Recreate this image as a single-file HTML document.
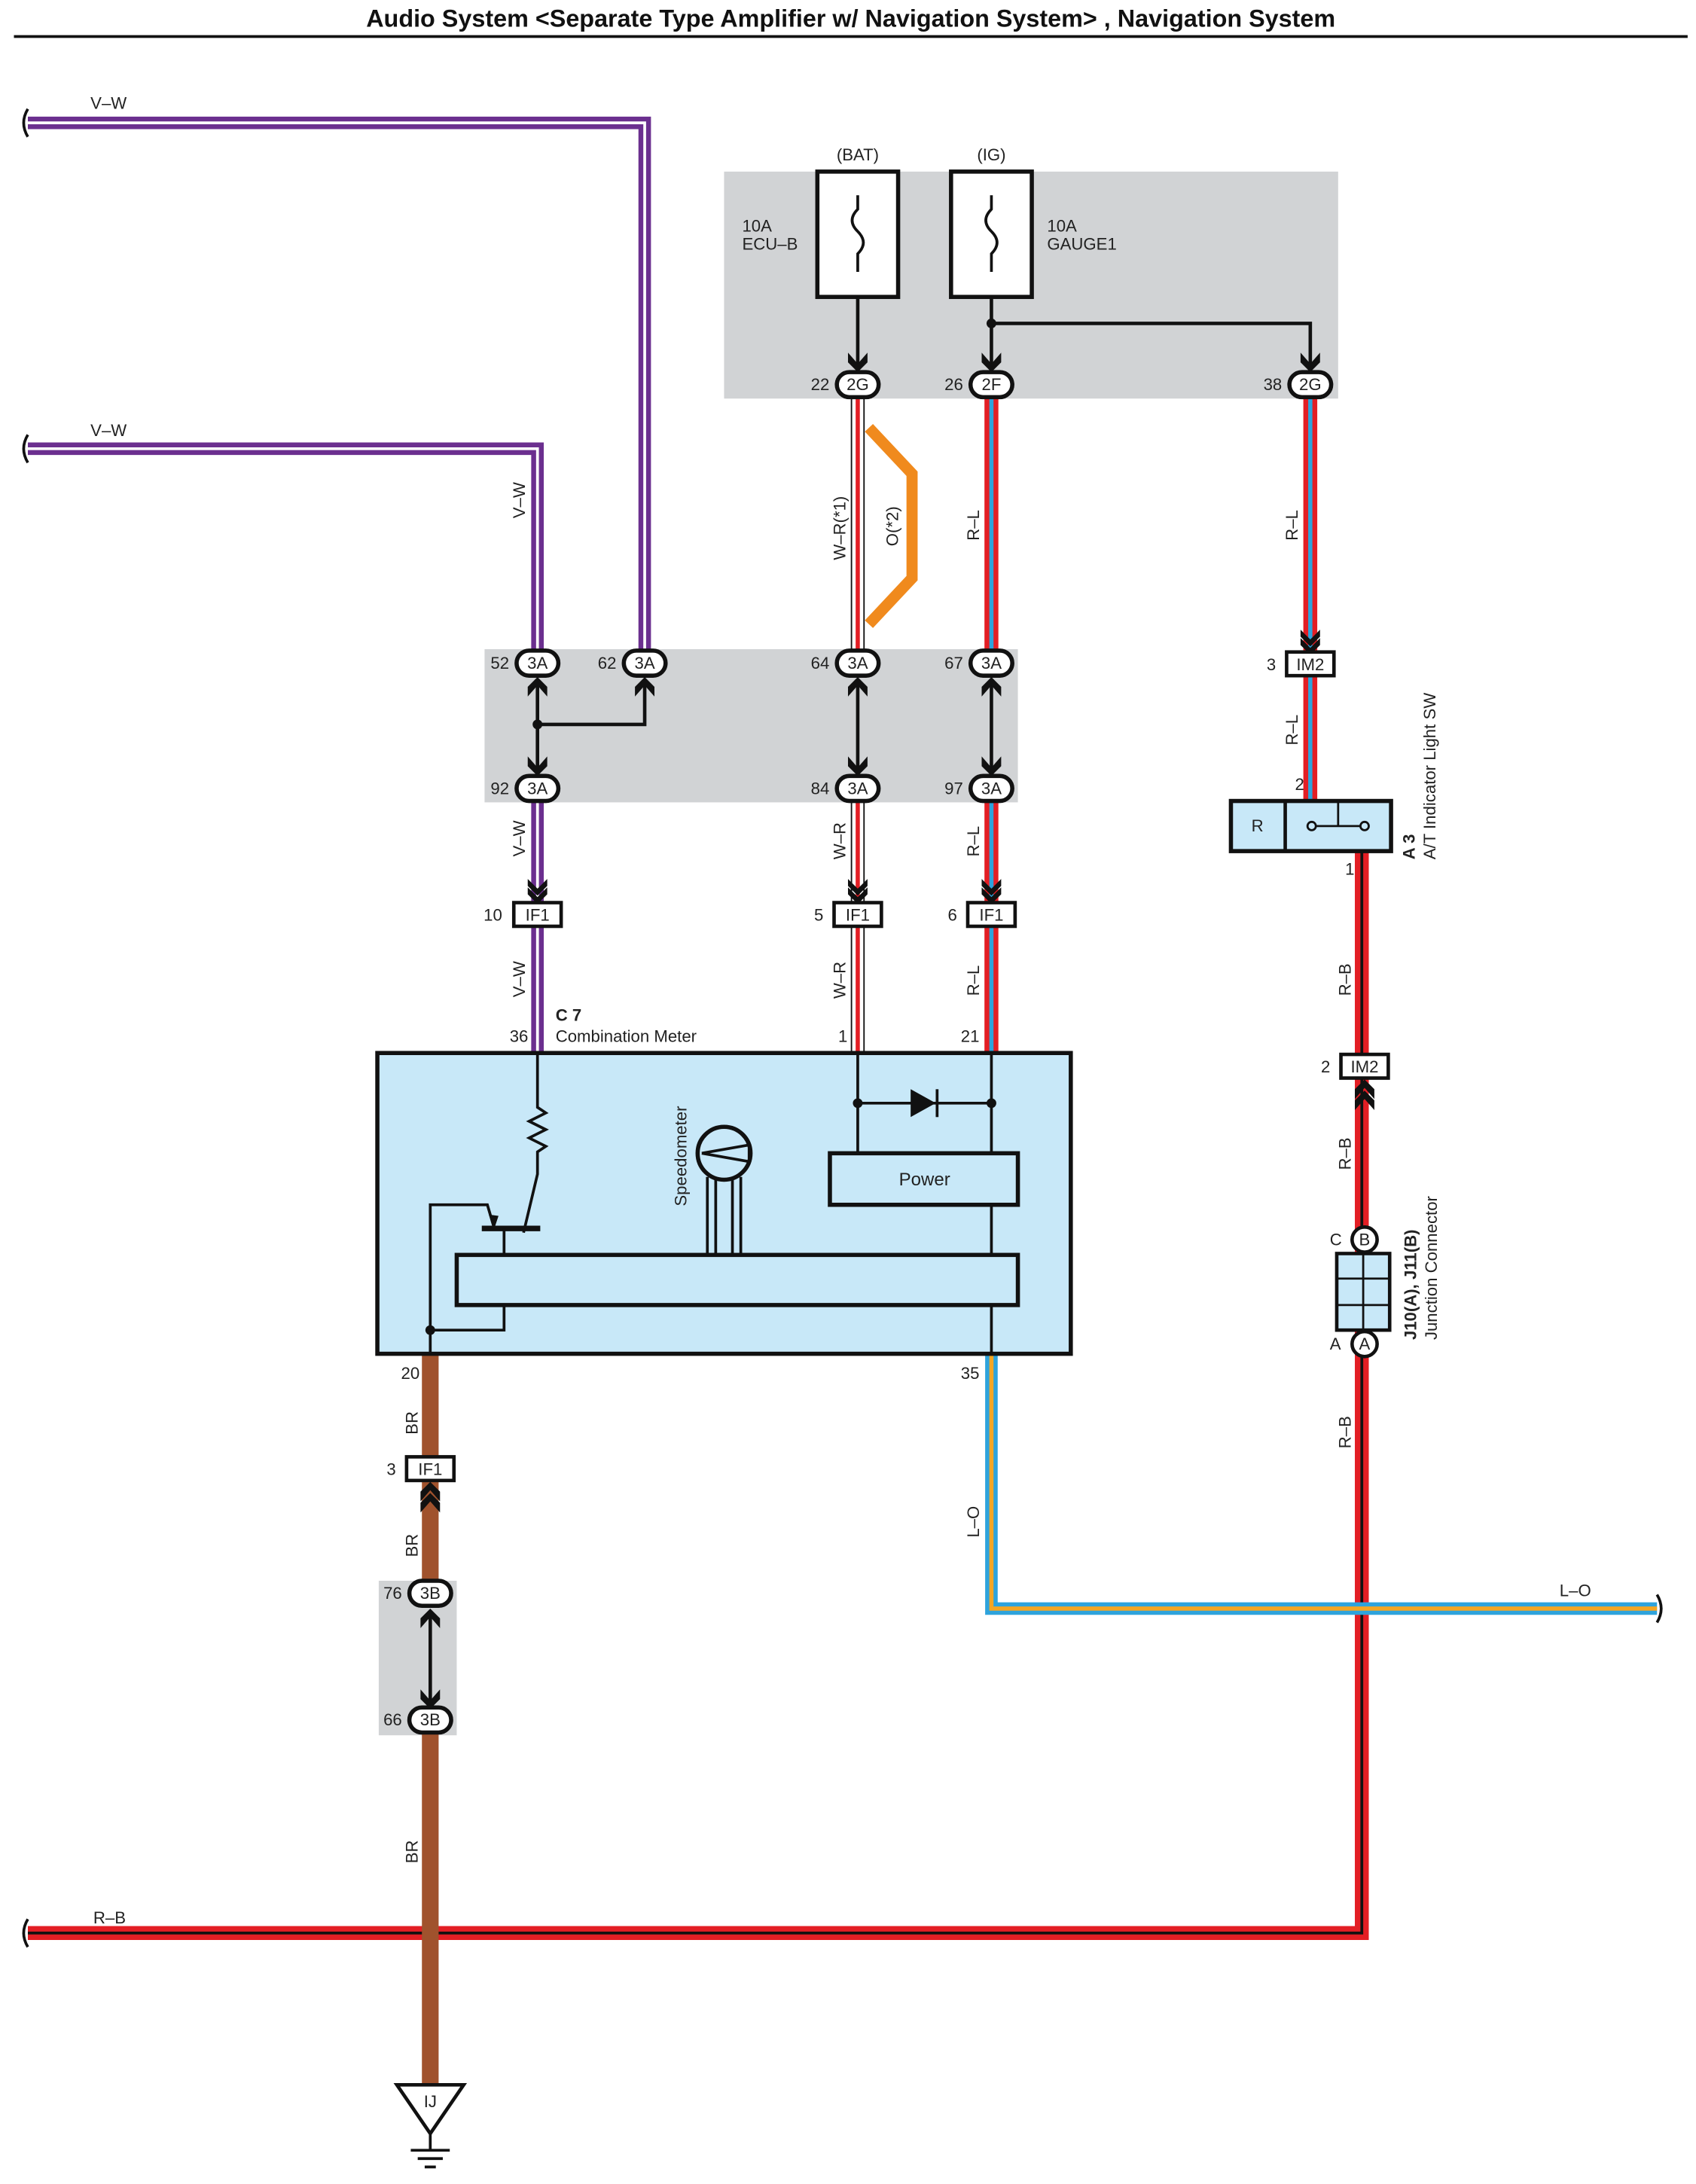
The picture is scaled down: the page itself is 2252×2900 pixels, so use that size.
<!DOCTYPE html>
<html><head><meta charset="utf-8"><style>
html,body{margin:0;padding:0;background:#fff;}
svg{display:block;}
text{font-family:"Liberation Sans",sans-serif;font-size:12px;fill:#222;}
</style></head><body>
<svg width="2252" height="2900" viewBox="0 0 1218 1568" xmlns="http://www.w3.org/2000/svg">
<defs>
<g id="conn"><rect x="-15" y="-9" width="30" height="18" rx="9" fill="#fff" stroke="#111" stroke-width="3"/></g>
<g id="rect"><rect x="-17" y="-8" width="34" height="17" fill="#fff" stroke="#111" stroke-width="2.5"/></g>
<g id="arrD"><path d="M-7,-14 L0,-7 L7,-14 L7,-9 L0,-2 L-7,-9Z" fill="#111"/><path d="M-7,-8 L0,-1 L7,-8 L7,-3 L0,4 L-7,-3Z" fill="#111"/></g>
<g id="arrowDn"><path d="M-7,-12 L0,-4 L7,-12 L7,-5 L0,2 L-7,-5Z" fill="#111"/></g>
<g id="arrowUp"><path d="M-7,12 L0,4 L7,12 L7,5 L0,-2 L-7,5Z" fill="#111"/></g>
</defs>
<text x="611" y="19" text-anchor="middle" style="font-size:17.5px;font-weight:bold;fill:#111">Audio System &lt;Separate Type Amplifier w/ Navigation System&gt; , Navigation System</text>
<line x1="10" y1="26" x2="1212" y2="26" stroke="#111" stroke-width="2"/>

<rect x="520" y="123" width="441" height="163" fill="#d1d3d5"/>
<rect x="348" y="466" width="383" height="110" fill="#d1d3d5"/>
<rect x="272" y="1135" width="56" height="111" fill="#d1d3d5"/>

<g fill="none">
<path d="M20,88 H463 V468" stroke="#6b2f8f" stroke-width="9"/>
<path d="M20,88 H463 V468" stroke="#fff" stroke-width="2"/>
<path d="M20,322 H386 V468" stroke="#6b2f8f" stroke-width="9"/>
<path d="M20,322 H386 V468" stroke="#fff" stroke-width="2"/>
<path d="M386,575 V756" stroke="#6b2f8f" stroke-width="9"/>
<path d="M386,575 V648 M386,665 V756" stroke="#fff" stroke-width="2"/>
</g>
<path d="M20,78 q-6,10 0,20" fill="none" stroke="#111" stroke-width="2"/>
<path d="M20,312 q-6,10 0,20" fill="none" stroke="#111" stroke-width="2"/>
<text x="65" y="78">V–W</text><text x="65" y="313">V–W</text>
<text transform="translate(377,372) rotate(-90)">V–W</text>
<text transform="translate(377,615) rotate(-90)">V–W</text>
<text transform="translate(377,716) rotate(-90)">V–W</text>

<g fill="none">
<path d="M616,285 V468 M616,575 V756" stroke="#111" stroke-width="10"/>
<path d="M616,285 V468 M616,575 V756" stroke="#fff" stroke-width="8"/>
<path d="M616,285 V468 M616,575 V756" stroke="#e31e24" stroke-width="3"/>
</g>
<text transform="translate(607,402) rotate(-90)">W–R(*1)</text>
<text transform="translate(607,617) rotate(-90)">W–R</text>
<text transform="translate(607,717) rotate(-90)">W–R</text>
<path d="M624,307 L655,340 V415 L624,448" fill="none" stroke="#f08a1d" stroke-width="8"/>
<text transform="translate(645,392) rotate(-90)">O(*2)</text>

<g fill="none">
<path d="M712,285 V468 M712,575 V756" stroke="#e31e24" stroke-width="10"/>
<path d="M712,285 V468 M712,575 V756" stroke="#2ea3dc" stroke-width="3"/>
<path d="M941,285 V575" stroke="#e31e24" stroke-width="10"/>
<path d="M941,285 V575" stroke="#2ea3dc" stroke-width="3"/>
</g>
<text transform="translate(703,388) rotate(-90)">R–L</text>
<text transform="translate(703,615) rotate(-90)">R–L</text>
<text transform="translate(703,715) rotate(-90)">R–L</text>
<text transform="translate(932,388) rotate(-90)">R–L</text>
<text transform="translate(932,535) rotate(-90)">R–L</text>

<g fill="none">
<path d="M20,1388 H978 V611" stroke="#e31e24" stroke-width="10"/>
<path d="M20,1388 H978 V611" stroke="#111" stroke-width="2"/>
</g>
<path d="M20,1378 q-6,10 0,20" fill="none" stroke="#111" stroke-width="2"/>
<text x="67" y="1381">R–B</text>
<text transform="translate(970,715) rotate(-90)">R–B</text>
<text transform="translate(970,840) rotate(-90)">R–B</text>
<text transform="translate(970,1040) rotate(-90)">R–B</text>

<g fill="none">
<path d="M712,972 V1155 H1190" stroke="#2ea3dc" stroke-width="9"/>
<path d="M712,972 V1155 H1190" stroke="#f5a623" stroke-width="3"/>
</g>
<path d="M1190,1145 q6,10 0,20" fill="none" stroke="#111" stroke-width="2"/>
<text x="1120" y="1146">L–O</text>
<text transform="translate(703,1104) rotate(-90)">L–O</text>

<path d="M309,972 V1135 M309,1245 V1497" stroke="#a0522d" stroke-width="12" fill="none"/>
<text transform="translate(300,1030) rotate(-90)">BR</text>
<text transform="translate(300,1118) rotate(-90)">BR</text>
<text transform="translate(300,1338) rotate(-90)">BR</text>

<rect x="587" y="123" width="58" height="90" fill="#fff" stroke="#111" stroke-width="3"/>
<rect x="683" y="123" width="58" height="90" fill="#fff" stroke="#111" stroke-width="3"/>
<path d="M616,140 V150 q-8,8 0,16 q8,8 0,16 V195" fill="none" stroke="#111" stroke-width="2"/>
<path d="M712,140 V150 q-8,8 0,16 q8,8 0,16 V195" fill="none" stroke="#111" stroke-width="2"/>
<text x="616" y="115" text-anchor="middle">(BAT)</text>
<text x="712" y="115" text-anchor="middle">(IG)</text>
<text x="533" y="166">10A</text><text x="533" y="179">ECU–B</text>
<text x="752" y="166">10A</text><text x="752" y="179">GAUGE1</text>
<g stroke="#111" stroke-width="2.5" fill="none">
<path d="M616,213 V262"/><path d="M712,213 V262"/><path d="M712,232 H941 V262"/>
</g>
<circle cx="712" cy="232" r="3.5" fill="#111"/>
<use href="#arrowDn" x="616" y="265"/><use href="#arrowDn" x="712" y="265"/><use href="#arrowDn" x="941" y="265"/>

<g text-anchor="middle">
<use href="#conn" x="616" y="276"/><text x="616" y="280">2G</text><text x="589" y="280">22</text>
<use href="#conn" x="712" y="276"/><text x="712" y="280">2F</text><text x="685" y="280">26</text>
<use href="#conn" x="941" y="276"/><text x="941" y="280">2G</text><text x="914" y="280">38</text>
</g>

<g stroke="#111" stroke-width="2.5" fill="none">
<path d="M386,490 V552"/><path d="M616,490 V552"/><path d="M712,490 V552"/>
<path d="M386,520 H463 V490"/>
</g>
<circle cx="386" cy="520" r="3.5" fill="#111"/>
<use href="#arrowUp" x="386" y="488"/><use href="#arrowUp" x="463" y="488"/><use href="#arrowUp" x="616" y="488"/><use href="#arrowUp" x="712" y="488"/>
<use href="#arrowDn" x="386" y="555"/><use href="#arrowDn" x="616" y="555"/><use href="#arrowDn" x="712" y="555"/>
<use href="#arrD" x="386" y="645"/><use href="#arrD" x="616" y="645"/><use href="#arrD" x="712" y="645"/>
<use href="#arrD" x="941" y="466"/>
<g text-anchor="middle">
<use href="#conn" x="386" y="476"/><text x="386" y="480">3A</text><text x="359" y="480">52</text>
<use href="#conn" x="463" y="476"/><text x="463" y="480">3A</text><text x="436" y="480">62</text>
<use href="#conn" x="616" y="476"/><text x="616" y="480">3A</text><text x="589" y="480">64</text>
<use href="#conn" x="712" y="476"/><text x="712" y="480">3A</text><text x="685" y="480">67</text>
<use href="#conn" x="386" y="566"/><text x="386" y="570">3A</text><text x="359" y="570">92</text>
<use href="#conn" x="616" y="566"/><text x="616" y="570">3A</text><text x="589" y="570">84</text>
<use href="#conn" x="712" y="566"/><text x="712" y="570">3A</text><text x="685" y="570">97</text>
<use href="#rect" x="386" y="656"/><text x="386" y="661">IF1</text><text x="354" y="661">10</text>
<use href="#rect" x="616" y="656"/><text x="616" y="661">IF1</text><text x="588" y="661">5</text>
<use href="#rect" x="712" y="656"/><text x="712" y="661">IF1</text><text x="684" y="661">6</text>
<use href="#rect" x="941" y="476"/><text x="941" y="481">IM2</text><text x="913" y="481">3</text>
<use href="#rect" x="980" y="765"/><text x="980" y="770">IM2</text><text x="952" y="770">2</text>
<use href="#rect" x="309" y="1054"/><text x="309" y="1059">IF1</text><text x="281" y="1059">3</text>
</g>
<use href="#arrowUp" x="980" y="777"/><use href="#arrowUp" x="980" y="785"/>
<use href="#arrowUp" x="309" y="1066"/><use href="#arrowUp" x="309" y="1074"/>

<rect x="884" y="575" width="115" height="36" fill="#c8e8f8" stroke="#111" stroke-width="3"/>
<line x1="923" y1="575" x2="923" y2="611" stroke="#111" stroke-width="2.5"/>
<text x="903" y="597" text-anchor="middle">R</text>
<circle cx="942" cy="593" r="3" fill="none" stroke="#111" stroke-width="1.5"/>
<circle cx="980" cy="593" r="3" fill="none" stroke="#111" stroke-width="1.5"/>
<line x1="945" y1="593" x2="977" y2="593" stroke="#111" stroke-width="1.5"/>
<line x1="961" y1="575" x2="961" y2="593" stroke="#111" stroke-width="1.5"/>
<text x="930" y="567">2</text><text x="966" y="628">1</text>
<text transform="translate(1016,617) rotate(-90)" style="font-weight:bold">A 3</text>
<text transform="translate(1031,617) rotate(-90)">A/T Indicator Light SW</text>

<rect x="960" y="900" width="38" height="55" fill="#c8e8f8" stroke="#111" stroke-width="2.5"/>
<path d="M960,918 H998 M960,937 H998 M979,900 V955" stroke="#111" stroke-width="1.5"/>
<circle cx="980" cy="890" r="9" fill="#fff" stroke="#111" stroke-width="2.5"/>
<circle cx="980" cy="965" r="9" fill="#fff" stroke="#111" stroke-width="2.5"/>
<text x="980" y="894" text-anchor="middle">B</text><text x="980" y="969" text-anchor="middle">A</text>
<text x="955" y="894">C</text><text x="955" y="969">A</text>
<text transform="translate(1017,962) rotate(-90)" style="font-weight:bold">J10(A), J11(B)</text>
<text transform="translate(1032,962) rotate(-90)">Junction Connector</text>

<text x="399" y="733" style="font-weight:bold">C 7</text>
<text x="399" y="748">Combination Meter</text>
<text x="366" y="748">36</text><text x="602" y="748">1</text><text x="690" y="748">21</text>
<rect x="271" y="756" width="498" height="216" fill="#c8e8f8" stroke="#111" stroke-width="3"/>
<g stroke="#111" stroke-width="2" fill="none">
<path d="M386,756 V795 l6,4 -12,6 12,6 -12,6 12,6 -6,4 V843 L376,885"/>
<path d="M346,882 H388" stroke-width="4"/>
<path d="M362,882 V901"/>
<path d="M309,972 V865 H350 L355,882"/>
<path d="M309,955 H362 V937"/>
<path d="M616,756 V828 M712,756 V828 M616,792 H712 M712,865 V972"/>
<circle cx="520" cy="828" r="19" stroke-width="3"/>
<path d="M504,828 L538,822 M504,828 L538,834 M538,822 V834"/>
<path d="M508,845 V901 M514,847 V901 M526,847 V901 M532,845 V901"/>
</g>
<path d="M351,872 l4,10 l3,-9z" fill="#111"/>
<circle cx="309" cy="955" r="3.5" fill="#111"/>
<circle cx="616" cy="792" r="3.5" fill="#111"/><circle cx="712" cy="792" r="3.5" fill="#111"/>
<path d="M654,782 L672,792 L654,802Z" fill="#111"/><line x1="673" y1="782" x2="673" y2="802" stroke="#111" stroke-width="2"/>
<rect x="596" y="828" width="135" height="37" fill="#c8e8f8" stroke="#111" stroke-width="3"/>
<text x="664" y="851" text-anchor="middle" style="font-size:13px">Power</text>
<rect x="328" y="901" width="403" height="36" fill="#c8e8f8" stroke="#111" stroke-width="3"/>
<text transform="translate(493,866) rotate(-90)">Speedometer</text>
<text x="288" y="990">20</text><text x="690" y="990">35</text>

<g stroke="#111" stroke-width="2.5"><path d="M309,1158 V1222"/></g>
<use href="#arrowUp" x="309" y="1157"/><use href="#arrowDn" x="309" y="1225"/>
<g text-anchor="middle">
<use href="#conn" x="309" y="1144"/><text x="309" y="1148">3B</text><text x="282" y="1148">76</text>
<use href="#conn" x="309" y="1235"/><text x="309" y="1239">3B</text><text x="282" y="1239">66</text>
</g>

<path d="M285,1497 H333 L309,1532Z" fill="#fff" stroke="#111" stroke-width="2.5"/>
<text x="309" y="1513" text-anchor="middle">IJ</text>
<g stroke="#111" stroke-width="2"><path d="M309,1532 V1544 M295,1544 H323 M300,1550 H318 M305,1556 H313"/></g>
</svg>
</body></html>
